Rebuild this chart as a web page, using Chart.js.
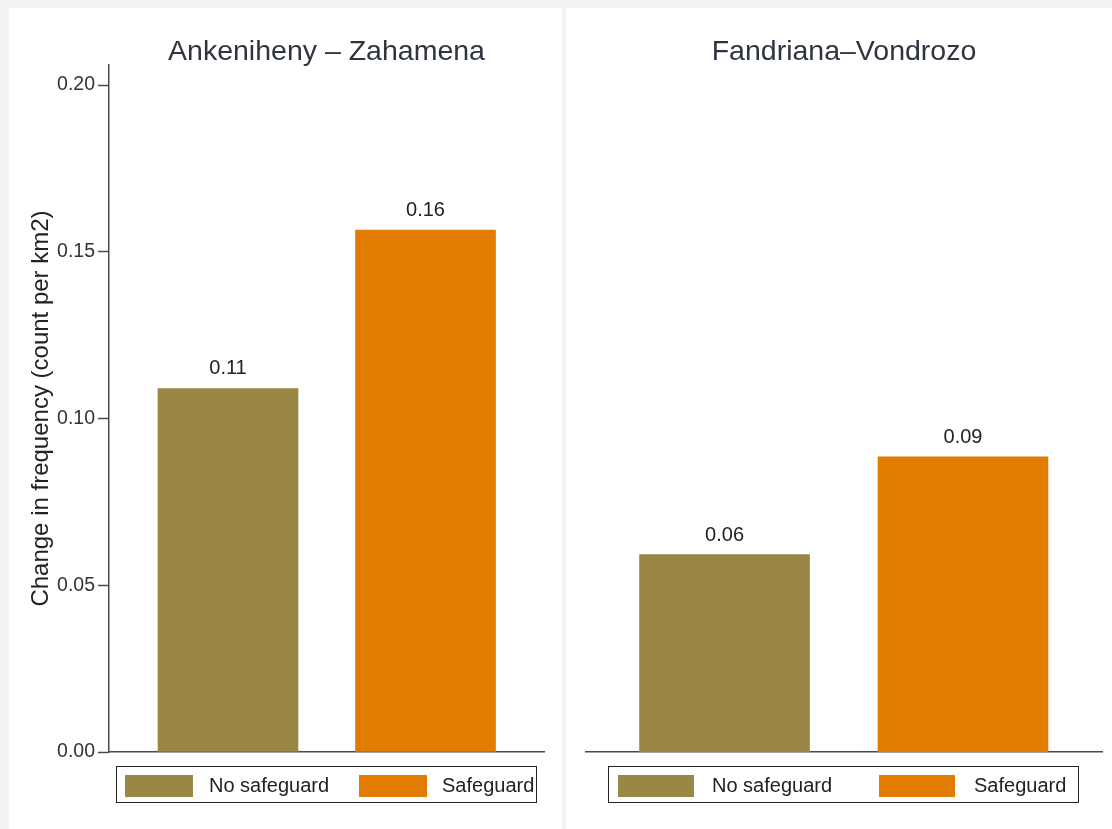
<!DOCTYPE html>
<html>
<head>
<meta charset="utf-8">
<script src="https://cdn.jsdelivr.net/npm/chart.js@4"></script>
<style>
  html, body { margin: 0; padding: 0; }
  body { width: 1112px; height: 829px; background: #f3f3f3; position: relative; overflow: hidden;
         font-family: "Liberation Sans", Arial, sans-serif; }
  .panel { position: absolute; top: 8px; height: 821px; background: #fff; }
  .panel canvas { position: absolute; left: 0; top: 0; }
  .title { position: absolute; top: 25px; font-size: 28.5px; color: #2f3441; white-space: nowrap;
           transform: translateX(-50%); line-height: 34px; }
  .legend { position: absolute; top: 758px; height: 37px; border: 1.5px solid #222; box-sizing: border-box; }
  .legend .sw { position: absolute; top: 8px; height: 22px; }
  .legend .lb { position: absolute; top: 6px; font-size: 20px; line-height: 24px; color: #222; white-space: nowrap; }
</style>
</head>
<body>
<div class="panel" id="p1" style="left:9px; width:553px;">
  <canvas id="c1" width="553" height="821"></canvas>
</div>
<div class="panel" id="p2" style="left:566px; width:546px;">
  <canvas id="c2" width="546" height="821"></canvas>
</div>

<script>
"use strict";

// data
const PANELS = ["Ankeniheny \u2013 Zahamena", "Fandriana\u2013Vondrozo"];
const SERIES = ["No safeguard", "Safeguard"];
const COLORS = ["#9a8745", "#e27c00"];
const NO_SAFEGUARD = [0.109, 0.0592];
const SAFEGUARD = [0.1565, 0.0885];
const Y_TICKS = [0, 0.05, 0.10, 0.15, 0.20];
const Y_TITLE = "Change in frequency (count per km2)";

// value labels above bars
const barLabels = {
  id: "barLabels",
  afterDatasetsDraw(chart) {
    const ctx = chart.ctx;
    ctx.save();
    ctx.font = "20px 'Liberation Sans', Arial, sans-serif";
    ctx.fillStyle = "#222";
    ctx.textAlign = "center";
    ctx.textBaseline = "alphabetic";
    chart.data.datasets.forEach((ds, i) => {
      chart.getDatasetMeta(i).data.forEach((bar, j) => {
        ctx.fillText(ds.data[j].y.toFixed(2), bar.x, bar.y - 14);
      });
    });
    ctx.restore();
  }
};

function makePanel(canvasId, p, opts) {
  const values = [NO_SAFEGUARD[p], SAFEGUARD[p]];
  return new Chart(document.getElementById(canvasId), {
    type: "bar",
    data: {
      datasets: SERIES.map((name, i) => ({
        label: name,
        data: [{ x: i + 1, y: values[i] }],
        backgroundColor: COLORS[i],
        borderWidth: 0,
        barThickness: opts.barWidth,
        grouped: false
      }))
    },
    plugins: [barLabels],
    options: {
      responsive: false,
      animation: false,
      layout: { padding: opts.padding },
      plugins: { legend: { display: false }, title: { display: false }, tooltip: { enabled: false } },
      scales: {
        x: {
          type: "linear",
          offset: false,
          min: opts.xMin,
          max: opts.xMax,
          ticks: { display: false },
          grid: { display: false, drawTicks: false, offset: false },
          border: { display: true, color: "#4a4a4a", width: 1.5 },
          afterFit(axis) { axis.height = 10; }
        },
        y: {
          display: opts.showY,
          min: 0,
          max: 0.206,
          afterBuildTicks(axis) { axis.ticks = Y_TICKS.map(v => ({ value: v })); },
          afterFit(axis) { axis.width = opts.showY ? 82 : 0; },
          ticks: {
            padding: 3,
            color: "#333",
            font: { family: "'Liberation Sans', Arial, sans-serif", size: 19.5 },
            callback: v => v.toFixed(2)
          },
          grid: { drawOnChartArea: false, drawTicks: true, tickLength: 11, color: "#4a4a4a", tickWidth: 1.5 },
          border: { display: true, color: "#4a4a4a", width: 1.5 },
          title: {
            display: true,
            text: Y_TITLE,
            color: "#222",
            padding: 0,
            font: { family: "'Liberation Sans', Arial, sans-serif", size: 24, lineHeight: 1.2 }
          }
        }
      }
    }
  });
}

makePanel("c1", 0, {
  padding: { left: 18, right: 18, top: 57, bottom: 67 },
  xMin: 0.3975, xMax: 2.6, barWidth: 140, showY: true
});
makePanel("c2", 1, {
  padding: { left: 20, right: 10, top: 57, bottom: 67 },
  xMin: 0.419, xMax: 2.583, barWidth: 170, showY: false
});

// panel titles and legends (html)
const legendLayout = [
  { panel: "p1", center: 317.5, box: [107, 421], sw: [8, 242], swW: 68, lb: [92, 325] },
  { panel: "p2", center: 278, box: [42, 471], sw: [9, 270], swW: 76, lb: [103, 365] }
];
legendLayout.forEach((L, p) => {
  const panel = document.getElementById(L.panel);
  const t = document.createElement("div");
  t.className = "title";
  t.style.left = L.center + "px";
  t.textContent = PANELS[p];
  panel.appendChild(t);

  const lg = document.createElement("div");
  lg.className = "legend";
  lg.style.left = L.box[0] + "px";
  lg.style.width = L.box[1] + "px";
  SERIES.forEach((name, i) => {
    const sw = document.createElement("div");
    sw.className = "sw";
    sw.style.left = L.sw[i] + "px";
    sw.style.width = L.swW + "px";
    sw.style.background = COLORS[i];
    lg.appendChild(sw);
    const lb = document.createElement("div");
    lb.className = "lb";
    lb.style.left = L.lb[i] + "px";
    lb.textContent = name;
    lg.appendChild(lb);
  });
  panel.appendChild(lg);
});
</script>
</body>
</html>
